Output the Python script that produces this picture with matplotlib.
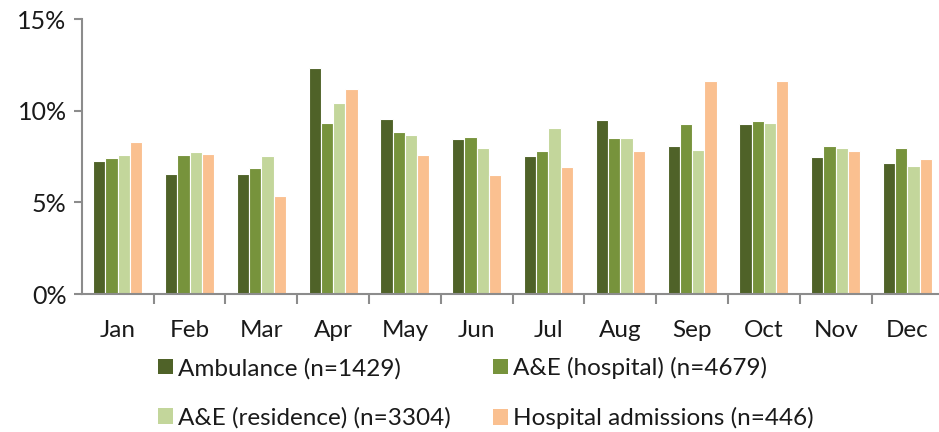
import matplotlib
matplotlib.use("Agg")
import matplotlib.pyplot as plt
import numpy as np
from matplotlib.ticker import FixedLocator, FuncFormatter
from matplotlib.patches import Patch

months = ["Jan", "Feb", "Mar", "Apr", "May", "Jun",
          "Jul", "Aug", "Sep", "Oct", "Nov", "Dec"]

ambulance = [7.25, 6.56, 6.56, 12.35, 9.55, 8.43, 7.54, 9.48, 8.08, 9.26, 7.47, 7.12]
ae_hospital = [7.43, 7.57, 6.90, 9.32, 8.83, 8.54, 7.79, 8.50, 9.30, 9.46, 8.08, 7.96]
ae_residence = [7.57, 7.76, 7.54, 10.41, 8.66, 7.99, 9.05, 8.50, 7.88, 9.34, 7.96, 6.96]
hosp_admissions = [8.27, 7.61, 5.34, 11.17, 7.59, 6.47, 6.92, 7.79, 11.64, 11.64, 7.79, 7.36]

series_labels = ["Ambulance (n=1429)", "A&E (hospital) (n=4679)",
                 "A&E (residence) (n=3304)", "Hospital admissions (n=446)"]
series_colors = ["#4F6228", "#77933C", "#C3D69B", "#FAC090"]
y_ticks = [0, 5, 10, 15]

plt.rcParams["font.family"] = ["Lato", "DejaVu Sans"]

fig = plt.figure(figsize=(9.39, 4.32), dpi=100)
ax = fig.add_axes([0.0872, 0.3194, 0.9128, 0.6366])

x = np.arange(len(months))
width = 0.171
all_series = [ambulance, ae_hospital, ae_residence, hosp_admissions]
for i, (vals, col) in enumerate(zip(all_series, series_colors)):
    ax.bar(x + (i - 1.5) * width, vals, width, color=col,
           edgecolor="white", linewidth=0.8)

ax.set_xlim(-0.5, 11.44)
ax.set_ylim(0, 15)

spine_col = "#8C8C8C"
for s in ["top", "right"]:
    ax.spines[s].set_visible(False)
for s in ["left", "bottom"]:
    ax.spines[s].set_color(spine_col)
    ax.spines[s].set_linewidth(1.5)

ax.set_yticks(y_ticks)
ax.yaxis.set_major_formatter(FuncFormatter(lambda v, p: f"{int(v)}%"))
ax.tick_params(axis="y", direction="out", length=6, width=1.5, color=spine_col,
               labelsize=18, pad=5, labelcolor="#1a1a1a")

ax.set_xticks(x)
ax.set_xticklabels(months)
ax.tick_params(axis="x", which="major", length=0, labelsize=17.5, pad=19,
               labelcolor="#1a1a1a")
ax.xaxis.set_minor_locator(FixedLocator(np.arange(0.5, 11.5, 1.0)))
ax.tick_params(axis="x", which="minor", direction="out", length=7, width=1.5,
               color=spine_col)

# legend filled column by column, so order handles to read row by row
order = [0, 2, 1, 3]
handles = [Patch(facecolor=series_colors[k], edgecolor="none") for k in order]
labels = [series_labels[k] for k in order]
fig.legend(handles, labels, ncol=2, loc="upper left",
           bbox_to_anchor=(0.158, 0.196), frameon=False, fontsize=17.5,
           handlelength=0.62, handleheight=0.62, handletextpad=0.2,
           columnspacing=1.75, labelspacing=1.15, borderaxespad=0,
           labelcolor="#1a1a1a")

fig.savefig("out.png", dpi=100)
